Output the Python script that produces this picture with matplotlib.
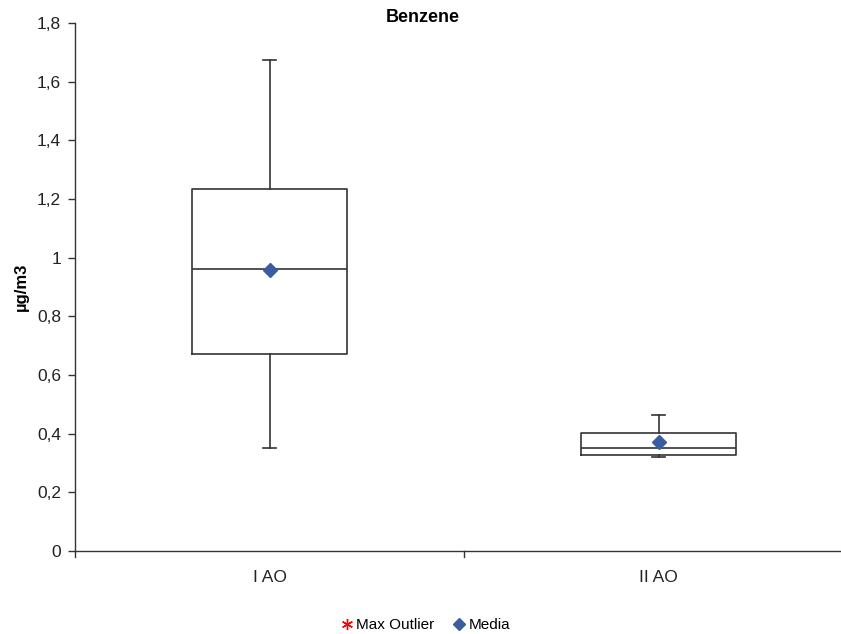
import matplotlib
matplotlib.use("Agg")
import matplotlib.pyplot as plt
from matplotlib.lines import Line2D

plt.rcParams['font.family'] = ['Liberation Sans', 'DejaVu Sans']

categories = ["I AO", "II AO"]
q1 = [0.672, 0.327]
median = [0.963, 0.351]
q3 = [1.234, 0.402]
wlo = [0.351, 0.322]
whi = [1.674, 0.464]
mean = [0.958, 0.372]
yticks = [0, 0.2, 0.4, 0.6, 0.8, 1.0, 1.2, 1.4, 1.6, 1.8]
ytick_labels = ["0", "0,2", "0,4", "0,6", "0,8", "1", "1,2", "1,4", "1,6", "1,8"]

fig = plt.figure(figsize=(8.41, 6.34), dpi=100)
ax = fig.add_axes([75/841, 83/634, 778/841, 528/634])

stats = []
for i, c in enumerate(categories):
    stats.append(dict(label=c, q1=q1[i], med=median[i], q3=q3[i],
                      whislo=wlo[i], whishi=whi[i], fliers=[]))
pos = list(range(len(categories)))
lc = '#333333'
ax.bxp(stats, positions=pos, widths=0.4, showfliers=False,
       boxprops=dict(color=lc, linewidth=1.2),
       medianprops=dict(color=lc, linewidth=1.2),
       whiskerprops=dict(color=lc, linewidth=1.2),
       capprops=dict(color=lc, linewidth=1.2),
       capwidths=0.035)
ax.plot(pos, mean, linestyle='none', marker='D', markersize=7,
        color='#3A5DA0', zorder=5)

ax.set_xlim(-0.5, len(categories) - 0.5)
ax.set_ylim(0, 1.8)
ax.set_yticks(yticks)
ax.set_yticklabels(ytick_labels, fontsize=12.5, color='#222222')
ax.set_xticks(pos)
ax.set_xticklabels(categories, fontsize=12.5, color='#222222')
ax.tick_params(axis='x', length=0, pad=14)
ax.tick_params(axis='y', length=5, width=1, color='#333333', pad=5)
# category boundary ticks
for b in [-0.5, 0.5, 1.5]:
    ax.plot([b, b], [0, -0.02], color='#333333', lw=1, clip_on=False,
            transform=ax.transData)
for s in ['top', 'right']:
    ax.spines[s].set_visible(False)
for s in ['left', 'bottom']:
    ax.spines[s].set_color('#333333')
    ax.spines[s].set_linewidth(1)

ax.set_ylabel("µg/m3", fontsize=12, fontweight='bold', labelpad=6)
fig.text(423/841, 1 - 18/634, "Benzene", ha='center', va='center',
         fontsize=13, fontweight='bold')

handles = [Line2D([], [], linestyle='none', marker=(6, 2, 0), color='red',
                  markersize=8, markeredgewidth=1.0, label='Max Outlier'),
           Line2D([], [], linestyle='none', marker='D', color='#3A5DA0',
                  markersize=6, label='Media')]
fig.legend(handles=handles, loc='center', bbox_to_anchor=(424/841, 1 - 625/634),
           ncol=2, frameon=False, fontsize=11, handletextpad=0.0,
           columnspacing=1.0, handlelength=1.2)

fig.savefig("out.png", dpi=100)
